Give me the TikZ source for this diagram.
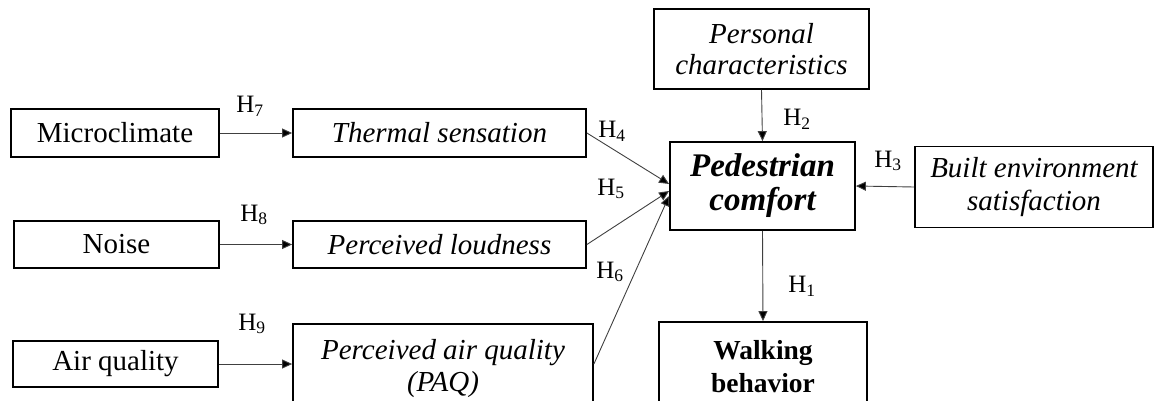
\documentclass[tikz,border=0pt]{standalone}
\usepackage{fontspec}
\setmainfont{Liberation Serif}
\usetikzlibrary{arrows.meta}
\newcommand\hyp[1]{H\textsubscript{#1}}
\tikzset{
  box/.style={draw=black, line width=1.8pt, inner sep=0pt, align=center,
    font=\fontsize{29}{32}\selectfont},
  itbox/.style={box, font=\itshape\fontsize{29}{32}\selectfont},
  conn/.style={draw=black!75, line width=0.9pt,
    -{Triangle[length=10pt,width=9pt,fill=black]}},
  hlab/.style={font=\fontsize{25}{28}\selectfont, inner sep=0pt}
}
\begin{document}
\begin{tikzpicture}[x=1pt,y=-1pt]
\useasboundingbox (0,0) rectangle (1157,401);
% left column: measured quantities
\node[box, minimum width=208pt, minimum height=48pt] (micro) at (115,133) {Microclimate};
\node[box, minimum width=205pt, minimum height=47pt] (noise) at (116.5,244.5) {Noise};
\node[box, minimum width=205pt, minimum height=46pt] (air) at (115.5,364) {Air quality};
% middle column: perceptions
\node[itbox, minimum width=293pt, minimum height=48pt] (thermal) at (439.5,133) {Thermal sensation};
\node[itbox, minimum width=293pt, minimum height=47pt] (loud) at (439.5,244.5) {Perceived loudness};
\node[itbox, minimum width=300pt, minimum height=90pt] (paq) at (443,369) {Perceived air quality\\(PAQ)};
% right part
\node[itbox, minimum width=215pt, minimum height=80pt, font=\itshape\fontsize{29}{31}\selectfont] (pers) at (761.5,49) {Personal\\characteristics};
\node[box, minimum width=185pt, minimum height=88pt, font=\bfseries\itshape\fontsize{33}{34}\selectfont] (ped) at (762.5,186) {Pedestrian\\comfort};
\node[itbox, minimum width=238pt, minimum height=81pt, font=\itshape\fontsize{29}{33}\selectfont] (built) at (1034,187) {Built environment\\satisfaction};
\node[box, minimum width=208pt, minimum height=90pt, font=\bfseries\fontsize{27.5}{33}\selectfont] (walk) at (763,367) {Walking\\behavior};
% connectors
\draw[conn] (micro.east) -- (thermal.west);
\draw[conn] (noise.east) -- (loud.west);
\draw[conn] (air.east) -- (air.east -| paq.west);
\draw[conn] (thermal.east) -- ([yshift=2pt]ped.west);
\draw[conn] (loud.east) -- ([yshift=-5pt]ped.west);
\draw[conn] ([yshift=5pt]paq.east) -- ([yshift=-10pt]ped.west);
\draw[conn] (pers.south) -- (ped.north);
\draw[conn] (built.west) -- (ped.east);
\draw[conn] (ped.south) -- (walk.north);
% hypothesis labels
\node[hlab] (h7) at (250,106) {\hyp{7}};
\node[hlab] (h8) at (254,215) {\hyp{8}};
\node[hlab] (h9) at (252,324) {\hyp{9}};
\node[hlab] (h4) at (612,131) {\hyp{4}};
\node[hlab] (h5) at (611,189) {\hyp{5}};
\node[hlab] (h6) at (610,272) {\hyp{6}};
\node[hlab] (h2) at (797,119) {\hyp{2}};
\node[hlab] (h3) at (888,161) {\hyp{3}};
\node[hlab] (h1) at (802,286) {\hyp{1}};
\end{tikzpicture}
\end{document}
